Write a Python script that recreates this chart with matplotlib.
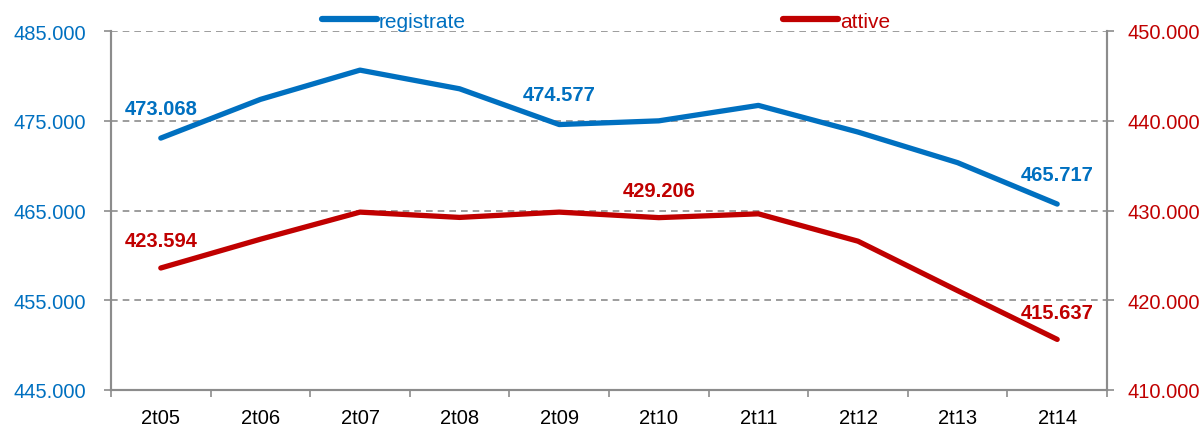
import matplotlib
matplotlib.use("Agg")
import matplotlib.pyplot as plt
from matplotlib.ticker import FuncFormatter, FixedLocator

plt.rcParams['font.family'] = ['Liberation Sans', 'DejaVu Sans']

categories = ["2t05", "2t06", "2t07", "2t08", "2t09", "2t10", "2t11", "2t12", "2t13", "2t14"]
registrate = [473068, 477380, 480640, 478560, 474577, 474990, 476710, 473740, 470330, 465717]
attive = [423594, 426800, 429820, 429230, 429820, 429206, 429630, 426580, 421070, 415637]
labels_reg = {0: "473.068", 4: "474.577", 9: "465.717"}
labels_att = {0: "423.594", 5: "429.206", 9: "415.637"}

BLUE = "#0070C0"
RED = "#C00000"
GRAY = "#8C8C8C"

fig = plt.figure(figsize=(12.04, 4.27), dpi=100)
ax = fig.add_axes([111/1204, 36/427, (1107-111)/1204, (391-32)/427])
ax2 = ax.twinx()

x = list(range(len(categories)))
ax.plot(x, registrate, color=BLUE, lw=3.8, solid_capstyle='round', solid_joinstyle='round', zorder=3)
ax2.plot(x, attive, color=RED, lw=3.8, solid_capstyle='round', solid_joinstyle='round', zorder=3)

ax.set_xlim(-0.5, len(categories) - 0.5)
ax.set_ylim(445000, 485000)
ax2.set_ylim(410000, 450000)
ax.set_yticks([445000, 455000, 465000, 475000, 485000])
ax2.set_yticks([410000, 420000, 430000, 440000, 450000])

fmt = FuncFormatter(lambda v, p: f"{int(v):,}".replace(",", "."))
ax.yaxis.set_major_formatter(fmt)
ax2.yaxis.set_major_formatter(fmt)

ax.set_xticks(x)
ax.set_xticklabels(categories, fontsize=14.5, color="black")
ax.xaxis.set_minor_locator(FixedLocator([i - 0.5 for i in range(len(categories) + 1)]))
ax.tick_params(axis='x', which='major', length=0, pad=13)
ax.tick_params(axis='x', which='minor', length=5, color=GRAY, width=1.2)

ax.tick_params(axis='y', colors=BLUE, labelsize=14.5, length=5, width=1.2, pad=13)
ax.tick_params(axis='y', color=GRAY)
ax2.tick_params(axis='y', colors=RED, labelsize=14.5, length=5, width=1.2, pad=10)
ax2.tick_params(axis='y', color=GRAY)

ax.grid(axis='y', color=GRAY, linestyle=(0, (4, 3)), linewidth=1.2)
ax.set_axisbelow(True)

for a in (ax, ax2):
    a.spines['top'].set_visible(False)
    for s in ('left', 'right', 'bottom'):
        a.spines[s].set_color(GRAY)
        a.spines[s].set_linewidth(1.5)

for i, t in labels_reg.items():
    ax.annotate(t, (x[i], registrate[i]), xytext=(0, 30), textcoords='offset pixels',
                ha='center', va='center', color=BLUE, fontsize=14.5, fontweight='bold', zorder=5)
for i, t in labels_att.items():
    ax2.annotate(t, (x[i], attive[i]), xytext=(0, 27), textcoords='offset pixels',
                 ha='center', va='center', color=RED, fontsize=14.5, fontweight='bold', zorder=5)

h1, = ax.plot([], [], color=BLUE, lw=4.5, solid_capstyle='round')
h2, = ax2.plot([], [], color=RED, lw=4.5, solid_capstyle='round')
kw = dict(frameon=False, fontsize=15, handlelength=2.6, handletextpad=0.1, borderpad=0, loc='center left')
leg1 = fig.legend([h1], ["registrate"], bbox_to_anchor=(312/1204, 1 - 22/427), labelcolor=BLUE, **kw)
leg2 = fig.legend([h2], ["attive"], bbox_to_anchor=(773/1204, 1 - 22/427), labelcolor=RED, **kw)

fig.savefig("out.png", dpi=100)
